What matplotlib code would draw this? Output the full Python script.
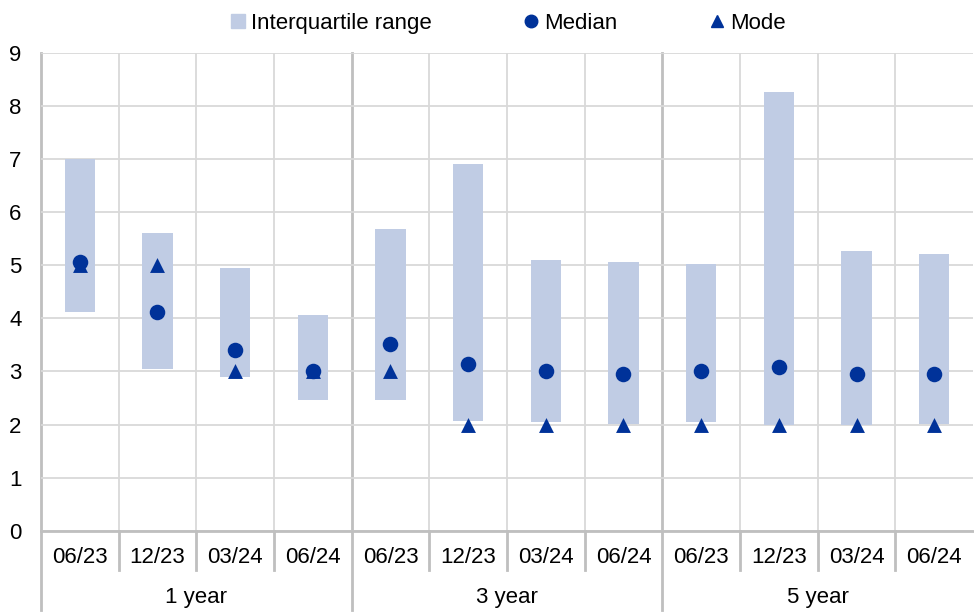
import numpy as np
import matplotlib.pyplot as plt
from matplotlib.lines import Line2D

plt.rcParams['font.family'] = ['Liberation Sans', 'DejaVu Sans']

periods = ['06/23', '12/23', '03/24', '06/24'] * 3
groups = ['1 year', '3 year', '5 year']
iqr_low = [4.12, 3.05, 2.90, 2.47, 2.47, 2.07, 2.05, 2.02, 2.05, 1.99, 1.99, 2.02]
iqr_high = [7.00, 5.60, 4.94, 4.07, 5.69, 6.91, 5.10, 5.07, 5.02, 8.26, 5.27, 5.22]
median = [5.06, 4.12, 3.40, 3.00, 3.51, 3.15, 3.00, 2.95, 3.00, 3.09, 2.95, 2.95]
mode = [5.0, 5.0, 3.0, 3.0, 3.0, 2.0, 2.0, 2.0, 2.0, 2.0, 2.0, 2.0]

bar_col = '#c0cce4'
dark = '#003299'
grid_col = '#d9d9d9'
sep_col = '#bfbfbf'
fs = 16

fig = plt.figure(figsize=(9.74, 6.13), dpi=100)
ax = fig.add_axes([0.042, 0.134, 0.957, 0.780])

x = np.arange(len(periods)) + 0.5
ax.bar(x, np.array(iqr_high) - np.array(iqr_low), bottom=iqr_low, width=0.39,
       color=bar_col, zorder=2)
ax.scatter(x, mode, marker='^', s=115, color=dark, zorder=3, linewidths=0)
ax.scatter(x, median, marker='o', s=125, color=dark, zorder=4, linewidths=0)

ax.set_xlim(0, 12)
ax.set_ylim(0, 9)
ax.set_yticks(range(10))
ax.tick_params(axis='y', labelsize=fs, length=0, pad=14)
ax.tick_params(axis='x', length=0, labelbottom=False)
ax.grid(axis='y', color=grid_col, lw=1.3, zorder=0)
for s in ['top', 'right']:
    ax.spines[s].set_visible(False)
ax.spines['bottom'].set_color(sep_col)
ax.spines['bottom'].set_linewidth(2)
ax.spines['left'].set_visible(False)

trans = ax.get_xaxis_transform()
for i in range(1, 12):
    if i % 4 == 0:
        continue
    ax.plot([i, i], [0, 1], transform=trans, color=grid_col, lw=1.3, zorder=1)
    ax.plot([i, i], [0, -0.082], transform=trans, color=sep_col, lw=2,
            clip_on=False)
for i in [0, 4, 8]:
    ax.plot([i, i], [1, -0.165], transform=trans, color=sep_col, lw=2,
            clip_on=False, zorder=1)

for xi, lab in zip(x, periods):
    ax.text(xi, -0.055, lab, transform=trans, ha='center', va='center', fontsize=fs)
for g, name in enumerate(groups):
    ax.text(g * 4 + 2, -0.14, name, transform=trans, ha='center', va='center',
            fontsize=fs)

handles = [
    Line2D([], [], marker='s', ls='none', color=bar_col, markersize=10),
    Line2D([], [], marker='o', ls='none', color=dark, markersize=9),
    Line2D([], [], marker='^', ls='none', color=dark, markersize=9),
]
fig.legend(handles, ['Interquartile range', 'Median', 'Mode'], loc='upper center',
           bbox_to_anchor=(0.522, 1.012), ncol=3, frameon=False, fontsize=fs,
           handlelength=0.6, handletextpad=0.3, columnspacing=4.15)

fig.savefig('out.png', dpi=100)
